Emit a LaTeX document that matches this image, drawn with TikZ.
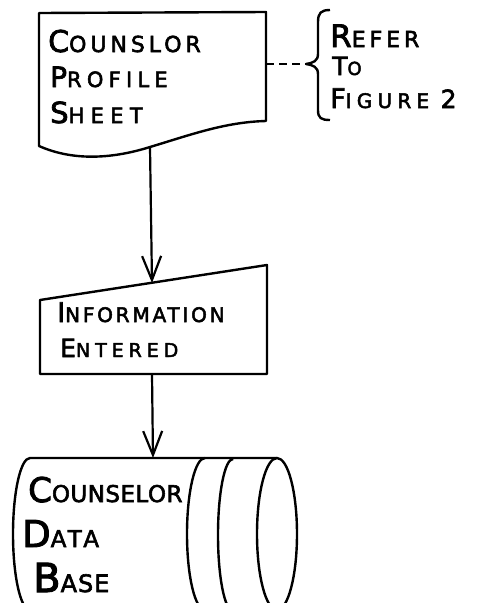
\documentclass[tikz,border=0pt]{standalone}
\usepackage{fontspec}
\setmainfont{DejaVu Sans}[FakeBold=2.5]
\usetikzlibrary{arrows.meta}
\newcommand{\hw}[5]{\addfontfeatures{LetterSpace=#3}{\fontsize{#1}{#1}\selectfont #4}{\fontsize{#2}{#2}\selectfont #5}}
\tikzset{
	outline/.style={line width=2.4pt,line join=round},
	flow/.style={line width=2.2pt,-{Straight Barb[length=24pt,width=19pt,line width=2.2pt]}},
	hand/.style={anchor=base west,inner sep=0pt},
}

\begin{document}
\begin{tikzpicture}[x=1pt,y=-1pt]
				\useasboundingbox (0,0) rectangle (483,603);
				\clip (0,0) rectangle (483,603);
				
				% profile sheet
				\draw[outline] (39,13) -- (266,12) -- (266,121) .. controls (225,122) and (190,135) .. (150,147) .. controls (115,158) and (75,162) .. (39,146) -- cycle;
				\coordinate (sheet) at (150,147);
				\coordinate (sheetside) at (266,64);
				\node[hand] (t1) at (48,52) {\hw{30}{22}{18}{C}{OUNSLOR}};
				\node[hand] (t2) at (50,87) {\hw{28}{21}{25}{P}{ROFILE}};
				\node[hand] (t3) at (50,123) {\hw{29}{21}{30}{S}{HEET}};
				
				% brace
				\coordinate (tip) at (306,64);
				\draw[outline] (330,10) .. controls (321,10) and (318,13) .. (318,22) -- (318,54) .. controls (318,61) and (313,63) .. (tip) .. controls (313,65) and (318,67) .. (318,74) -- (318,110) .. controls (318,118) and (321,120) .. (330,120);
				\node[hand] (r1) at (330,47) {\hw{31}{22}{18}{R}{EFER}};
				\node[hand] (r2) at (332,75) {\hw{25}{18}{28}{T}{O}};
				\node[hand] (r3) at (330,108) {\hw{27}{20}{26}{F}{IGURE \fontsize{25}{25}\selectfont 2}};
				
				% manual input
				\draw[outline] (40,300) -- (267,265) -- (267,374) -- (40,374) -- cycle;
				\coordinate (entry) at (152,283);
				\coordinate (entrybot) at (152,374);
				\node[hand] (i1) at (57,322) {\hw{27}{20}{14}{I}{NFORMATION}};
				\node[hand] (i2) at (60,357) {\hw{25}{19}{26}{E}{NTERED}};
				
				% data base drum
				\draw[outline] (277,458) -- (30,458) arc[start angle=-90,end angle=-270,x radius=17,y radius=76];
				\draw[outline] (277,534) ellipse [x radius=20,y radius=76];
				\draw[outline] (205,458) arc[start angle=-90,end angle=-270,x radius=18,y radius=76];
				\draw[outline] (233,459) arc[start angle=-90,end angle=-270,x radius=15,y radius=76];
				\coordinate (base) at (153,458);
				\node[hand] (d1) at (28,502) {\hw{34}{23}{2}{C}{OUNSELOR}};
				\node[hand] (d2) at (22,547) {\hw{37}{23}{14}{D}{ATA}};
				\node[hand] (d3) at (33,592) {\hw{40}{24}{4}{B}{ASE}};
				
				\path [flow] (sheet) edge (entry);
				\path [flow] (entrybot) edge (base);
				\draw[line width=2.2pt,dash pattern=on 8pt off 5pt] (sheetside) -- (tip);
			\end{tikzpicture}
\end{document}
